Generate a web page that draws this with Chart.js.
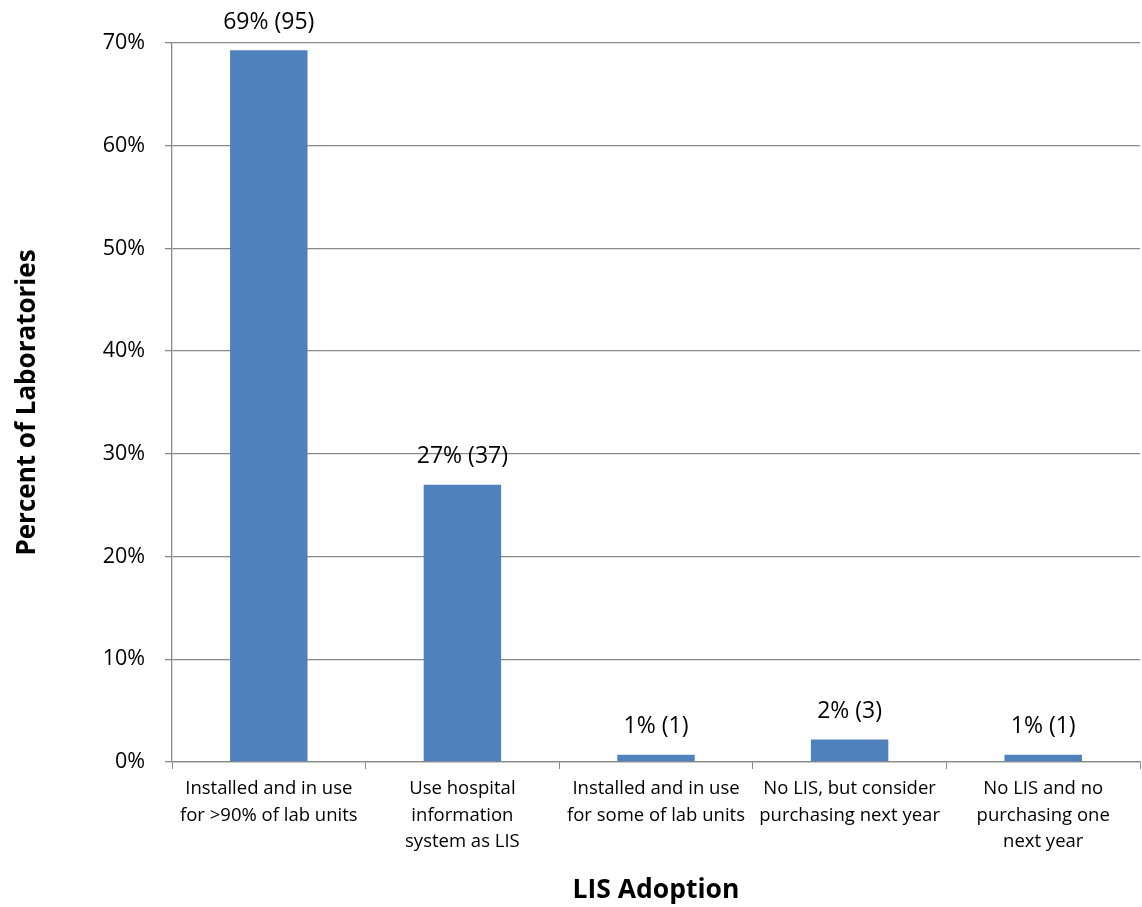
<!DOCTYPE html>
<html>
<head>
<meta charset="utf-8">
<script src="https://cdn.jsdelivr.net/npm/chart.js@4"></script>
<style>
  body { margin: 0; background: #fff; }
  #wrap { width: 1142px; height: 907px; position: relative; }
</style>
</head>
<body>
<div id="wrap"><canvas id="lisChart"></canvas></div>
<script>
// categories (multi-line labels) and values
const categories = [
  ['Installed and in use', 'for >90% of lab units'],
  ['Use hospital', 'information', 'system as LIS'],
  ['Installed and in use', 'for some of lab units'],
  ['No LIS, but consider', 'purchasing next year'],
  ['No LIS and no', 'purchasing one', 'next year']
];
const percentValues = [69.3, 27.0, 0.7, 2.2, 0.7];
const percentLabels = [69, 27, 1, 2, 1];
const labCounts = [95, 37, 1, 3, 1];
const yTicks = [0, 10, 20, 30, 40, 50, 60, 70];

const FONT = '"Open Sans", sans-serif';
const GRID = '#898989';

// labels above each bar : "69% (95)"
const barLabels = {
  id: 'barLabels',
  afterDatasetsDraw(chart) {
    const ctx = chart.ctx;
    const meta = chart.getDatasetMeta(0);
    ctx.save();
    ctx.font = '23px ' + FONT;
    ctx.fillStyle = '#000';
    ctx.textAlign = 'center';
    ctx.textBaseline = 'middle';
    meta.data.forEach((bar, i) => {
      ctx.fillText(percentLabels[i] + '% (' + labCounts[i] + ')', bar.x, bar.y - 28);
    });
    ctx.restore();
  }
};

const ctx = document.getElementById('lisChart');
new Chart(ctx, {
  type: 'bar',
  data: {
    labels: categories,
    datasets: [{
      label: 'Percent of Laboratories',
      data: percentValues,
      backgroundColor: '#4F81BD',
      barPercentage: 0.4,
      categoryPercentage: 1.0
    }]
  },
  options: {
    responsive: true,
    maintainAspectRatio: false,
    animation: false,
    layout: { padding: { top: 43, right: 2, left: 0, bottom: 0 } },
    plugins: {
      legend: { display: false },
      tooltip: { enabled: false }
    },
    scales: {
      x: {
        grid: {
          display: true,
          drawOnChartArea: false,
          drawTicks: true,
          tickLength: 7,
          color: GRID,
          offset: true
        },
        border: { display: true, color: GRID, width: 1.3 },
        ticks: {
          color: '#000',
          maxRotation: 0,
          autoSkip: false,
          padding: 7,
          font: { family: FONT, size: 18.5, lineHeight: 1.43 }
        },
        title: {
          display: true,
          text: 'LIS Adoption',
          color: '#000',
          font: { family: FONT, size: 26.5, weight: 'bold' },
          padding: { top: 0, bottom: 1 }
        },
        afterFit(scale) { scale.height = 145; }
      },
      y: {
        min: 0,
        max: 70,
        afterBuildTicks(scale) { scale.ticks = yTicks.map(v => ({ value: v })); },
        grid: {
          color: GRID,
          lineWidth: 1.3,
          tickLength: 7
        },
        border: { display: true, color: GRID, width: 1.3 },
        ticks: {
          color: '#000',
          padding: 20,
          font: { family: FONT, size: 21.5 },
          callback: v => v + '%'
        },
        title: {
          display: true,
          text: 'Percent of Laboratories',
          color: '#000',
          font: { family: FONT, size: 26, weight: 'bold' },
          padding: { top: 12, bottom: 0 }
        },
        afterFit(scale) { scale.width = 172; }
      }
    }
  },
  plugins: [barLabels]
});
</script>
</body>
</html>
